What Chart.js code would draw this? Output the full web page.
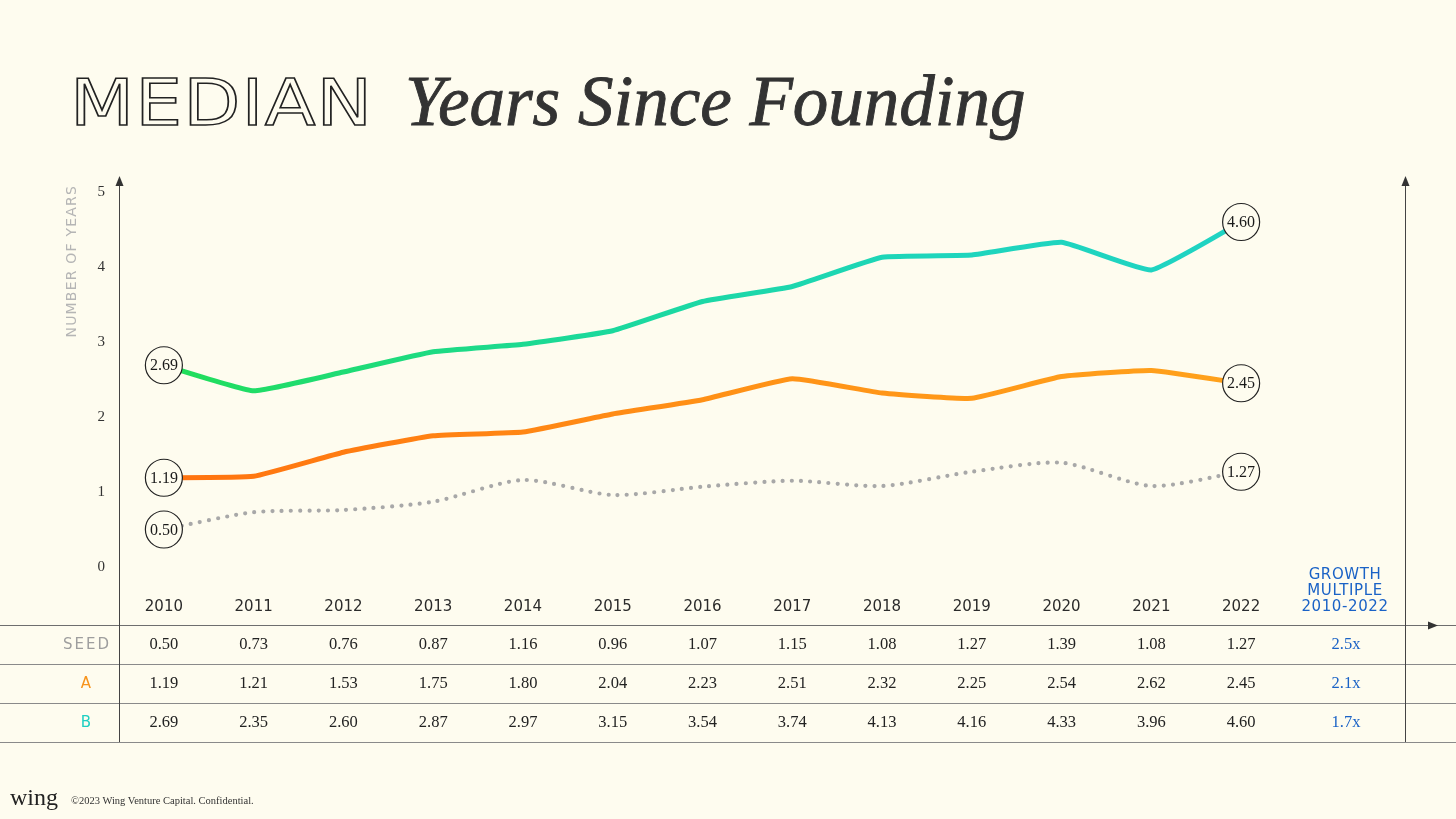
<!DOCTYPE html>
<html>
<head>
<meta charset="utf-8">
<script src="https://cdn.jsdelivr.net/npm/chart.js@4.4.0/dist/chart.umd.min.js"></script>
<style>
html,body{margin:0;padding:0;background:#FEFCEF;width:1456px;height:819px;overflow:hidden;}
#wrap{position:relative;width:1456px;height:819px;}
#c{position:absolute;left:0;top:0;}
.t{position:absolute;white-space:nowrap;margin:0;}
#t1{left:70px;top:71px;font-family:'DejaVu Sans',sans-serif;font-size:64px;line-height:64px;letter-spacing:1px;color:transparent;-webkit-text-stroke:1.5px #222;transform:scaleX(1.16);transform-origin:left center;}
#t2{left:405px;top:66px;font-family:'Liberation Serif',serif;font-style:italic;font-size:71px;line-height:70px;color:#333;-webkit-text-stroke:0.9px #333;}
#logo{left:10px;top:785px;font-family:'Liberation Serif',serif;font-size:24px;line-height:24px;color:#222;}
#copy{left:71px;top:796px;font-family:'Liberation Serif',serif;font-size:10.5px;line-height:10.5px;color:#333;}
</style>
</head>
<body>
<div id="wrap">
<canvas id="c" width="1456" height="819"></canvas>
<div class="t" id="t1">MEDIAN</div>
<div class="t" id="t2">Years Since Founding</div>
<div class="t" id="logo">wing</div>
<div class="t" id="copy">©2023 Wing Venture Capital. Confidential.</div>
</div>
<script>
const years = ['2010','2011','2012','2013','2014','2015','2016','2017','2018','2019','2020','2021','2022'];
const seedValues = [0.50,0.73,0.76,0.87,1.16,0.96,1.07,1.15,1.08,1.27,1.39,1.08,1.27];
const aValues = [1.19,1.21,1.53,1.75,1.80,2.04,2.23,2.51,2.32,2.25,2.54,2.62,2.45];
const bValues = [2.69,2.35,2.60,2.87,2.97,3.15,3.54,3.74,4.13,4.16,4.33,3.96,4.60];
const rowLabels = ['SEED','A','B'];
const growthMultiples = ['2.5x','2.1x','1.7x'];
const growthHeader = ['GROWTH','MULTIPLE','2010-2022'];
const yAxisTitle = 'NUMBER OF YEARS';

const BG = '#FEFCEF';
const rowColors = ['#9E9E9E','#F7941D','#1FCFC2'];
const BLUE = '#1A62C6';
const SERIF = "'Liberation Serif', serif";
const SANS = "'DejaVu Sans', sans-serif";

function grad(ctx, chart, stops){
  const ca = chart.chartArea;
  if(!ca) return stops[0][1];
  const g = ctx.createLinearGradient(ca.left, 0, ca.right, 0);
  stops.forEach(s=>g.addColorStop(s[0], s[1]));
  return g;
}

const decor = {
  id:'decor',
  afterDraw(chart){
    const ctx = chart.ctx;
    const ca = chart.chartArea;
    const xs = chart.scales.x;
    const W = chart.width;
    const axL = ca.left, axR = 1405;
    const hLine = 625, rowLines = [664,703,742], rowY = [645,684,723];
    ctx.save();
    ctx.lineWidth = 1;
    ctx.strokeStyle = '#6e6e6e';
    ctx.beginPath(); ctx.moveTo(0,hLine+0.5); ctx.lineTo(W,hLine+0.5); ctx.stroke();
    ctx.strokeStyle = '#8a8a8a';
    rowLines.forEach(y=>{ctx.beginPath(); ctx.moveTo(0,y+0.5); ctx.lineTo(W,y+0.5); ctx.stroke();});
    ctx.strokeStyle = '#444';
    [axL, axR].forEach(x=>{
      ctx.beginPath(); ctx.moveTo(x+0.5,184); ctx.lineTo(x+0.5,742); ctx.stroke();
      ctx.fillStyle = '#333';
      ctx.beginPath(); ctx.moveTo(x+0.5,176); ctx.lineTo(x+4.5,186); ctx.lineTo(x-3.5,186); ctx.closePath(); ctx.fill();
    });
    ctx.fillStyle = '#333';
    ctx.beginPath(); ctx.moveTo(1438,hLine+0.5); ctx.lineTo(1428,hLine-3.5); ctx.lineTo(1428,hLine+4.5); ctx.closePath(); ctx.fill();

    ctx.save();
    ctx.translate(72, 185);
    ctx.rotate(-Math.PI/2);
    ctx.font = '14px ' + SANS;
    ctx.letterSpacing = '1.2px';
    ctx.fillStyle = '#B5B5B5';
    ctx.textAlign = 'right';
    ctx.textBaseline = 'middle';
    ctx.fillText(yAxisTitle, 0, 0);
    ctx.restore();

    const series = [seedValues, aValues, bValues];
    ctx.textBaseline = 'middle';
    series.forEach((vals, r)=>{
      ctx.font = '15px ' + SANS;
      ctx.letterSpacing = '2px';
      ctx.fillStyle = rowColors[r];
      ctx.textAlign = 'center';
      ctx.fillText(rowLabels[r], 87, rowY[r]);
      ctx.letterSpacing = '0px';
      ctx.font = '16.5px ' + SERIF;
      ctx.fillStyle = '#222';
      vals.forEach((v,i)=>{
        ctx.fillText(v.toFixed(2), xs.getPixelForValue(i), rowY[r]);
      });
      ctx.fillStyle = BLUE;
      ctx.fillText(growthMultiples[r], 1346, rowY[r]);
    });
    ctx.font = '15px ' + SANS;
    ctx.letterSpacing = '0.6px';
    ctx.fillStyle = BLUE;
    ctx.textAlign = 'center';
    growthHeader.forEach((t,i)=>ctx.fillText(t, 1345, 575 + i*16.3));
    ctx.restore();
  },
  afterDatasetsDraw(chart){
    const ctx = chart.ctx;
    ctx.save();
    chart.data.datasets.forEach((ds, di)=>{
      const meta = chart.getDatasetMeta(di);
      const pts = meta.data;
      [0, pts.length-1].forEach(idx=>{
        const p = pts[idx];
        ctx.beginPath();
        ctx.arc(p.x, p.y, 18.5, 0, Math.PI*2);
        ctx.fillStyle = BG;
        ctx.fill();
        ctx.lineWidth = 1.2;
        ctx.strokeStyle = '#222';
        ctx.stroke();
        ctx.fillStyle = '#1a1a1a';
        ctx.font = '16px ' + SERIF;
        ctx.textAlign = 'center';
        ctx.textBaseline = 'middle';
        ctx.fillText(ds.data[idx].toFixed(2), p.x, p.y + 1);
      });
    });
    ctx.restore();
  }
};

new Chart(document.getElementById('c'), {
  type:'line',
  data:{
    labels: years,
    datasets:[
      {label:'B', data:bValues, borderWidth:5, tension:0.12, pointRadius:0,
       borderColor:(c)=>grad(c.chart.ctx, c.chart, [[0,'#22DE52'],[0.4,'#1BD99A'],[0.7,'#1ED5BC'],[1,'#20D3C4']])},
      {label:'A', data:aValues, borderWidth:5, tension:0.12, pointRadius:0,
       borderColor:(c)=>grad(c.chart.ctx, c.chart, [[0,'#FF700F'],[0.5,'#FF9016'],[1,'#FFA31C']])},
      {label:'SEED', data:seedValues, borderWidth:4.2, tension:0.25, pointRadius:0,
       borderColor:'#A8A8A8', borderDash:[0,9.2], borderCapStyle:'round'}
    ]
  },
  options:{
    responsive:false,
    animation:false,
    devicePixelRatio:1,
    layout:{padding:{left:59, right:170, top:192, bottom:192}},
    plugins:{legend:{display:false}, tooltip:{enabled:false}},
    scales:{
      x:{
        type:'category', offset:true,
        grid:{display:false, drawTicks:false}, border:{display:false},
        ticks:{padding:31, color:'#2b2b2b', font:{family:SANS, size:15}, maxRotation:0, autoSkip:false},
        afterFit(s){ s.height = 60; }
      },
      y:{
        min:0, max:5,
        grid:{display:false, drawTicks:false}, border:{display:false},
        ticks:{stepSize:1, padding:14, color:'#333', font:{family:SERIF, size:15}},
        afterFit(s){ s.width = 60; }
      }
    }
  },
  plugins:[decor]
});
</script>
</body>
</html>
